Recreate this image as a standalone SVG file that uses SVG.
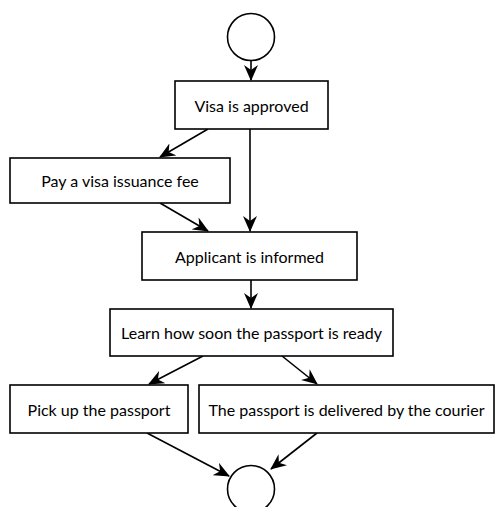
<svg xmlns="http://www.w3.org/2000/svg" width="496" height="507" viewBox="0 0 496 507">
<style>
.box{fill:#fff;stroke:#000;stroke-width:1.6}
.circ{fill:#fff;stroke:#000;stroke-width:1.6}
.lbl{font-family:Lato,"Liberation Sans",sans-serif;font-size:16px;fill:#000;text-anchor:middle;dominant-baseline:central}
.edge{stroke:#000;stroke-width:1.6;fill:none;marker-end:url(#arr)}
</style>
<defs>
<marker id="arr" viewBox="0 0 16 14" refX="15" refY="7" markerWidth="16" markerHeight="14" markerUnits="userSpaceOnUse" orient="auto">
<path d="M0,0 L16,7 L0,14 L5,7 Z" fill="#000"/>
</marker>
</defs>
<g id="connectors">
<line class="edge" x1="251" y1="61" x2="251" y2="80"/>
<line class="edge" x1="208" y1="129" x2="160" y2="157"/>
<line class="edge" x1="250" y1="129" x2="250" y2="231"/>
<line class="edge" x1="160" y1="203" x2="208" y2="231"/>
<line class="edge" x1="251" y1="280" x2="251" y2="308"/>
<line class="edge" x1="203" y1="356" x2="149" y2="384"/>
<line class="edge" x1="282" y1="356" x2="317" y2="384"/>
<line class="edge" x1="147" y1="433" x2="229" y2="476"/>
<line class="edge" x1="317" y1="433" x2="271" y2="469"/>
</g>
<g id="start"><circle class="circ" cx="251" cy="37" r="23.5"/></g>
<g id="visa-approved"><rect class="box" x="175" y="81" width="153" height="48"/><text class="lbl" x="251.5" y="105">Visa is approved</text></g>
<g id="pay-fee"><rect class="box" x="10" y="158" width="220" height="45"/><text class="lbl" x="120" y="180.5">Pay a visa issuance fee</text></g>
<g id="applicant-informed"><rect class="box" x="142" y="232" width="215" height="48"/><text class="lbl" x="249.5" y="256">Applicant is informed</text></g>
<g id="learn"><rect class="box" x="110" y="309" width="283" height="47"/><text class="lbl" x="251.5" y="332.5">Learn how soon the passport is ready</text></g>
<g id="pick-up"><rect class="box" x="10" y="385" width="178" height="48"/><text class="lbl" x="99" y="409">Pick up the passport</text></g>
<g id="courier"><rect class="box" x="199" y="385" width="295" height="48"/><text class="lbl" x="346.5" y="409">The passport is delivered by the courier</text></g>
<g id="end"><circle class="circ" cx="251" cy="489" r="23.5"/></g>
</svg>
